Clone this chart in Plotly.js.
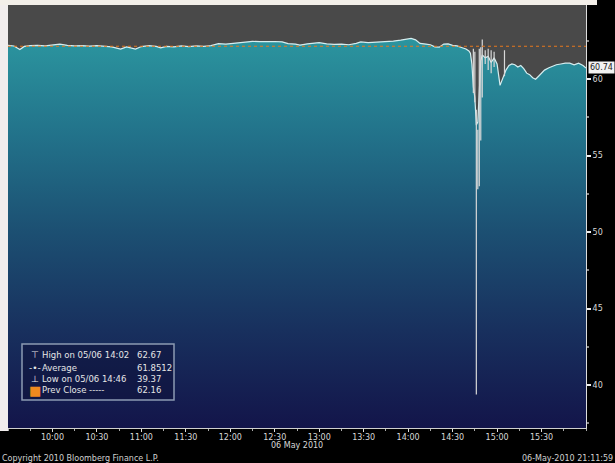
<!DOCTYPE html>
<html><head><meta charset="utf-8">
<script src="https://cdn.plot.ly/plotly-3.0.1.min.js"></script>
<style>html,body{margin:0;padding:0;background:#000;}#chart{width:615px;height:463px;}</style>
</head><body><div id="chart"></div>
<script>
const DAY = '2010-05-06 ';
// Close price path (time HH:MM, price)
const times = ['09:30','09:34','09:38','09:41','09:45','09:50','09:55','10:00','10:05','10:10','10:15','10:20','10:25','10:30','10:35','10:40','10:46','10:50','10:56','11:00','11:05','11:10','11:13','11:17','11:22','11:27','11:32','11:37','11:42','11:47','11:52','11:57','12:02','12:07','12:10','12:15','12:20','12:25','12:30','12:35','12:39','12:44','12:47','12:52','12:57','13:00','13:05','13:10','13:15','13:20','13:25','13:28','13:33','13:38','13:44','13:50','13:55','13:58','14:02','14:05','14:08','14:12','14:15','14:18','14:21','14:24','14:27','14:30','14:33','14:36','14:39','14:41','14:42','14:43','14:44','14:45','14:46','14:47','14:48','14:49','14:50','14:52','14:54','14:56','14:58','15:00','15:02','15:04','15:06','15:08','15:10','15:12','15:14','15:16','15:18','15:20','15:22','15:24','15:26','15:28','15:30','15:32','15:35','15:38','15:40','15:43','15:46','15:49','15:52','15:55','15:58','16:00'];
const closes = [62.22,62.18,61.95,62.15,62.20,62.22,62.18,62.22,62.30,62.22,62.18,62.20,62.17,62.20,62.15,62.12,61.98,62.12,61.98,62.14,62.20,62.15,62.05,62.15,62.12,62.18,62.14,62.18,62.15,62.20,62.33,62.30,62.35,62.40,62.47,62.48,62.46,62.48,62.47,62.45,62.33,62.30,62.24,62.32,62.38,62.40,62.32,62.28,62.30,62.26,62.35,62.44,62.40,62.42,62.45,62.50,62.56,62.60,62.67,62.58,62.35,62.30,62.26,62.12,62.10,62.30,62.32,62.22,62.18,62.08,61.98,61.85,61.70,61.00,59.50,58.80,57.00,57.20,59.00,61.20,61.60,61.40,61.50,61.10,61.40,61.00,59.60,60.10,60.60,60.90,61.00,60.95,60.80,60.90,60.70,60.40,60.30,60.10,60.00,60.20,60.40,60.60,60.75,60.90,60.95,61.00,61.05,61.05,60.95,61.05,60.90,60.74];
// Crash-period high/low bars
const barTimes = ['14:44','14:45','14:46','14:47','14:48','14:49','14:50','14:52','14:54','14:56','14:58','15:05'];
const barHighs = [62.00,61.80,58.00,56.70,62.00,62.10,62.60,61.90,62.00,61.90,61.80,61.90];
const barLows  = [59.10,58.50,39.37,52.80,53.00,56.00,58.80,61.00,60.60,60.40,60.80,60.20];
const prevClose = 62.16;
const lastPrice = 60.74;
const xTickLabels = ['10:00','10:30','11:00','11:30','12:00','12:30','13:00','13:30','14:00','14:30','15:00','15:30'];
const yTickValues = [40,45,50,55,60];
const legendSymbols = ['\u22A4','-\u2022-','\u22A5','\u25A0'];
const legendLabels = ['High on 05/06 14:02','Average','Low on 05/06 14:46','Prev Close -----'];
const legendValues = ['62.67','61.8512','39.37','62.16'];

const W = 615, H = 463, ML = 8, MR = 29, MT = 5, MB = 35;
const PW = W - ML - MR, PH = H - MT - MB;
const px = x => (x - ML) / PW;          // pixel -> paper x
const py = y => (H - MB - y) / PH;      // pixel -> paper y

const xs = times.map(t => DAY + t);
const barX = [], barY = [];
barTimes.forEach((t, i) => { barX.push(DAY + t, DAY + t, null); barY.push(barLows[i], barHighs[i], null); });

const font = 'DejaVu Sans, sans-serif';
const traces = [
  { x: xs, y: closes, type: 'scatter', mode: 'lines', fill: 'tozeroy',
    line: { color: '#d6eef0', width: 1.2 },
    fillcolor: '#23707f',
    fillgradient: { type: 'vertical', start: 37.18, stop: 62.6,
      colorscale: [[0, '#13154a'], [0.25, '#18305e'], [0.5, '#1c4f72'], [0.75, '#22728a'], [1, '#2b959f']] },
    hoverinfo: 'skip', showlegend: false },
  { x: barX, y: barY, type: 'scatter', mode: 'lines', line: { color: '#d8d8d8', width: 1.2 },
    connectgaps: false, hoverinfo: 'skip', showlegend: false },
  { x: [DAY + '09:30', DAY + '16:00'], y: [prevClose, prevClose], type: 'scatter', mode: 'lines',
    line: { color: '#e8781e', width: 1.2, dash: 'dot' }, hoverinfo: 'skip', showlegend: false }
];

const annotations = [];
const rowsY = [355, 367.5, 378.5, 390];
legendLabels.forEach((lab, i) => {
  annotations.push({ xref: 'paper', yref: 'paper', x: px(35), y: py(rowsY[i]), xanchor: 'center', yanchor: 'middle',
    text: legendSymbols[i], showarrow: false,
    font: { family: font, size: i === 3 ? 13 : 9, color: i === 3 ? '#f08a1e' : '#e6e6e6' } });
  annotations.push({ xref: 'paper', yref: 'paper', x: px(40), y: py(rowsY[i]), xanchor: 'left', yanchor: 'middle',
    text: lab, showarrow: false, font: { family: font, size: 8.5, color: '#e6e6e6' } });
  annotations.push({ xref: 'paper', yref: 'paper', x: px(135), y: py(rowsY[i]), xanchor: 'left', yanchor: 'middle',
    text: legendValues[i], showarrow: false, font: { family: font, size: 8.5, color: '#e6e6e6' } });
});
annotations.push({ xref: 'paper', yref: 'y', x: 1, xshift: 2, y: lastPrice, xanchor: 'left', yanchor: 'middle',
  text: lastPrice.toFixed(2), showarrow: false, bgcolor: '#f2f2f2', borderpad: 1,
  font: { family: font, size: 8, color: '#222' } });
annotations.push({ xref: 'paper', yref: 'paper', x: 0.5, y: py(445), xanchor: 'center', yanchor: 'middle',
  text: '06 May 2010', showarrow: false, font: { family: font, size: 8, color: '#d8d8d8' } });
annotations.push({ xref: 'paper', yref: 'paper', x: px(0), y: py(458), xanchor: 'left', yanchor: 'middle',
  text: 'Copyright 2010 Bloomberg Finance L.P.', showarrow: false, font: { family: font, size: 8, color: '#d0d0d0' } });
annotations.push({ xref: 'paper', yref: 'paper', x: px(615), y: py(458), xanchor: 'right', yanchor: 'middle',
  text: '06-May-2010 21:11:59', showarrow: false, font: { family: font, size: 8, color: '#d0d0d0' } });

const shapes = [
  { type: 'rect', xref: 'paper', yref: 'paper', x0: px(0), x1: px(8), y0: py(431), y1: py(0),
    fillcolor: '#f1eded', line: { width: 0 }, layer: 'above' },
  { type: 'rect', xref: 'paper', yref: 'paper', x0: px(0), x1: px(597), y0: py(5), y1: py(0),
    fillcolor: '#f3efe9', line: { width: 0 }, layer: 'above' },
  { type: 'rect', xref: 'paper', yref: 'paper', x0: px(22), x1: px(174), y0: py(400), y1: py(344),
    fillcolor: 'rgba(14,18,58,0.55)', line: { color: '#8c9ab2', width: 1.5 }, layer: 'above' }
];

const layout = {
  width: W, height: H,
  margin: { l: ML, r: MR, t: MT, b: MB, pad: 0 },
  paper_bgcolor: '#000000', plot_bgcolor: '#494949',
  showlegend: false,
  xaxis: { type: 'date', range: [DAY + '09:30', DAY + '16:00'],
    tickmode: 'array', tickvals: xTickLabels.map(t => DAY + t), ticktext: xTickLabels,
    ticks: 'outside', ticklen: 3, tickcolor: '#dddddd', tickwidth: 1, ticklabelstandoff: -2,
    minor: { tickmode: 'linear', tick0: DAY + '09:45', dtick: 15 * 60 * 1000, ticks: 'outside', ticklen: 2, tickcolor: '#aaaaaa' },
    showline: true, linecolor: '#cfcfcf', linewidth: 1, showgrid: false, zeroline: false,
    tickfont: { family: font, size: 8, color: '#d8d8d8' },
    fixedrange: true },
  yaxis: { side: 'right', range: [37.18, 64.86], tickmode: 'array', tickvals: yTickValues,
    ticks: 'outside', ticklen: 4, tickwidth: 2, tickcolor: '#eeeeee',
    minor: { tickmode: 'linear', tick0: 37.5, dtick: 2.5, ticks: 'outside', ticklen: 2, tickcolor: '#888888' },
    showline: true, linecolor: '#dddddd', linewidth: 1, showgrid: false, zeroline: false,
    tickfont: { family: font, size: 8, color: '#d8d8d8' }, fixedrange: true },
  annotations: annotations, shapes: shapes
};
Plotly.newPlot('chart', traces, layout, { staticPlot: true, displayModeBar: false });
</script></body></html>
